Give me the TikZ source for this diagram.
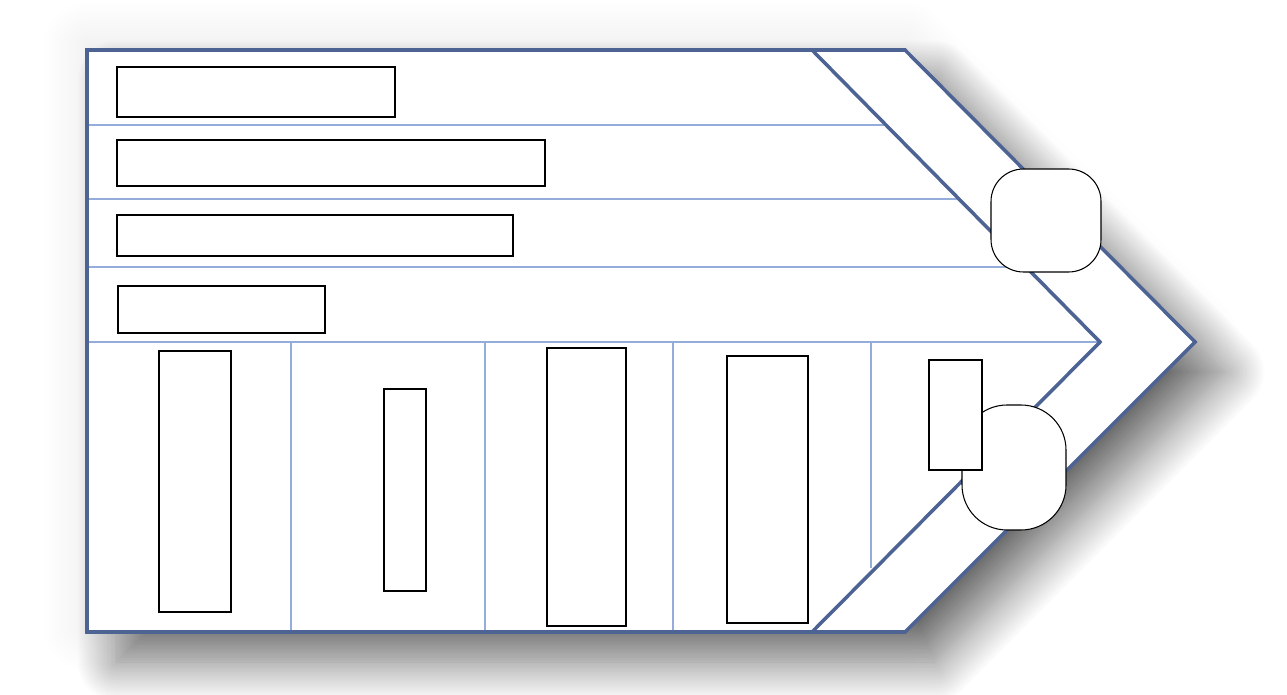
\documentclass[tikz,border=0pt]{standalone}
\usetikzlibrary{shadows.blur}
\definecolor{edge}{HTML}{4C6394}
\definecolor{rule}{HTML}{93ACDA}

\begin{document}
\begin{tikzpicture}[x=0.02cm,y=-0.02cm,
  outline/.style={draw=edge,line width=2pt,line join=miter},
  ruling/.style={draw=rule,line width=1.6pt},
  box/.style={draw=black,line width=0.6pt,fill=white}]
  \useasboundingbox (0,0) rectangle (1287,695);
  % faint glow
  \path[fill=white,blur shadow={shadow xshift=0cm,shadow yshift=0.1cm,shadow blur radius=0.9cm,shadow blur steps=25,shadow opacity=10}]
    (87,50) -- (905,50) -- (1195,342) -- (905,632) -- (87,632) -- cycle;
  % arrow body with shadow
  \path[fill=white,blur shadow={shadow xshift=0.6cm,shadow yshift=-0.6cm,shadow blur radius=0.8cm,shadow blur steps=30,shadow opacity=55}]
    (87,50) -- (905,50) -- (1195,342) -- (905,632) -- (87,632) -- cycle;
  % rows
  \foreach \y in {125,199,267,342} {
    \draw[ruling] (87,\y) -- ({812+(\y-50)*0.9863},\y);
  }
  % columns
  \foreach \x in {291,485,673} {
    \draw[ruling] (\x,342) -- (\x,632);
  }
  \draw[ruling] (871,342) -- (871,568);
  % chevron and outline
  \draw[outline] (812,50) -- (1100,342) -- (812,632);
  \draw[outline] (87,50) -- (905,50) -- (1195,342) -- (905,632) -- (87,632) -- cycle;
  % text boxes
  \foreach \a/\b/\c/\d in {117/67/395/117, 117/140/545/186, 117/215/513/256, 118/286/325/333,
      159/351/231/612, 384/389/426/591, 547/348/626/626, 727/356/808/623} {
    \draw[box] (\a,\b) rectangle (\c,\d);
  }
  % rounded boxes
  \draw[box,rounded corners=0.65cm] (991,169) rectangle (1101,272);
  \draw[box,rounded corners=0.9cm] (962,405) rectangle (1066,530);
  \draw[box] (929,360) rectangle (982,470);
\end{tikzpicture}
\end{document}
